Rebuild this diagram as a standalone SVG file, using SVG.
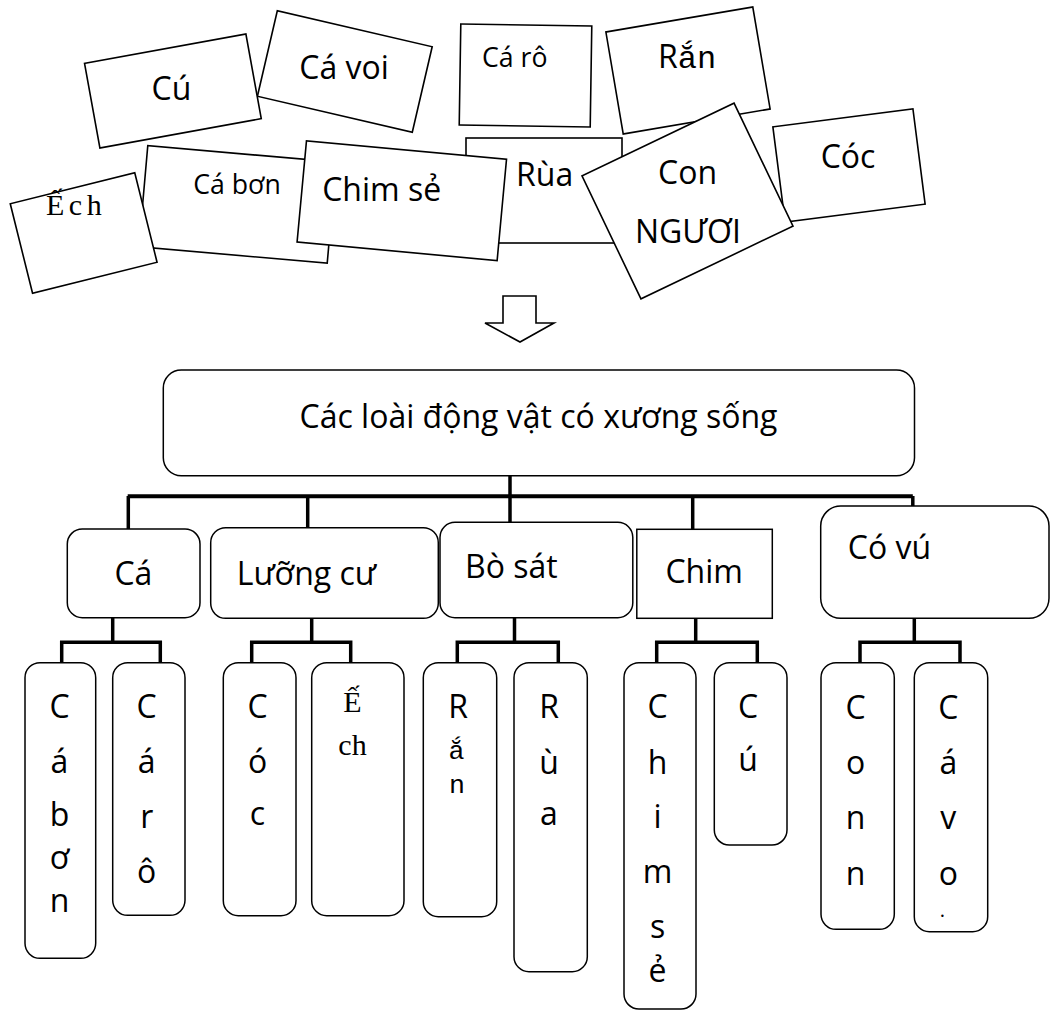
<svg xmlns="http://www.w3.org/2000/svg" width="1051" height="1012" viewBox="0 0 1051 1012">
<style>
.card{fill:#fff;stroke:#000;stroke-width:1.6}
.box{fill:#fff;stroke:#000;stroke-width:1.5}
.t{font-family:"Open Sans","Noto Sans","DejaVu Sans",sans-serif;font-size:32px;fill:#000}
.s{font-size:26.67px}
.serif{font-family:"Liberation Serif","DejaVu Serif",serif;font-size:30px;fill:#000}
.mono{font-family:"Liberation Mono","DejaVu Sans Mono",monospace}
.m{text-anchor:middle}
.conn{stroke:#000;stroke-width:3.5;fill:none}
</style>
<rect width="1051" height="1012" fill="#fff"/>

<!-- scattered cards -->
<g id="card-cavoi">
  <rect class="card" x="-79.5" y="-43.9" width="159" height="87.8" transform="translate(344.8,71.5) rotate(13.1)"/>
  <text class="t m" x="344" y="79">Cá voi</text>
</g>
<g id="card-cu">
  <rect class="card" x="-82" y="-43" width="164" height="86" transform="translate(172.9,91) rotate(-10.3)"/>
  <text class="t m" x="171.5" y="100">Cú</text>
</g>
<g id="card-caro">
  <rect class="card" x="-65.5" y="-50.5" width="131" height="101" transform="translate(525.5,75.5) rotate(0.9)"/>
  <text class="t s" x="482" y="67">Cá rô</text>
</g>
<g id="card-ran">
  <rect class="card" x="-74.5" y="-51.7" width="149" height="103.4" transform="translate(688,70.5) rotate(-9.65)"/>
  <text class="t" x="658" y="68">R<tspan class="mono">ắn</tspan></text>
</g>
<g id="card-cabon">
  <rect class="card" x="-94.5" y="-50.75" width="189" height="101.5" transform="translate(237.5,204.4) rotate(5)"/>
  <text class="t s m" x="237" y="194">Cá bơn</text>
</g>
<g id="card-ech">
  <rect class="card" x="-64.15" y="-46.1" width="128.3" height="92.2" transform="translate(83.65,233) rotate(-14)"/>
  <text class="serif" x="46" y="215" letter-spacing="4.5">Ếch</text>
</g>
<g id="card-rua">
  <rect class="card" x="466" y="138" width="156" height="105"/>
  <text class="t" x="516" y="186">Rùa</text>
</g>
<g id="card-chimse">
  <rect class="card" x="-100.45" y="-50.85" width="200.9" height="101.7" transform="translate(401.8,200.7) rotate(5.3)"/>
  <text class="t m" x="381.7" y="201">Chim sẻ</text>
</g>
<g id="card-coc">
  <rect class="card" x="-70.6" y="-48" width="141.2" height="96" transform="translate(849,165.5) rotate(-7.3)"/>
  <text class="t m" x="848" y="168">Cóc</text>
</g>
<g id="card-connguoi">
  <rect class="card" x="-84.3" y="-68.2" width="168.6" height="136.4" transform="translate(687.5,201) rotate(-25.6)"/>
  <text class="t m" x="687.5" y="184">Con</text>
  <text class="t m" x="688" y="243">NGƯƠI</text>
</g>

<!-- block arrow -->
<g id="arrow">
  <polygon class="card" points="503,296 536,296 536,323 554,323 520,342 485,323 503,323"/>
</g>

<!-- connectors -->
<g id="connectors" class="conn">
  <line x1="510" y1="475.7" x2="510" y2="527.7"/>
  <line x1="127.7" y1="496.3" x2="912.8" y2="496.3" stroke-width="4"/>
  <line x1="128.3" y1="496" x2="128.3" y2="529"/>
  <line x1="307.7" y1="496" x2="307.7" y2="528"/>
  <line x1="692.7" y1="496" x2="692.7" y2="529.3"/>
  <line x1="912.8" y1="496" x2="912.8" y2="527"/>

  <polyline points="61.7,662.7 61.7,642.3 160.3,642.3 160.3,662.7"/>
  <line x1="112.7" y1="617.7" x2="112.7" y2="642.3"/>

  <polyline points="251.7,662.7 251.7,642.3 350.7,642.3 350.7,662.7"/>
  <line x1="311.7" y1="618.3" x2="311.7" y2="642.3"/>

  <polyline points="457.3,662.7 457.3,642.3 558.3,642.3 558.3,662.7"/>
  <line x1="514.5" y1="617.7" x2="514.5" y2="642.3"/>

  <polyline points="656.7,662.7 656.7,642.3 757.3,642.3 757.3,662.7"/>
  <line x1="695.7" y1="618.3" x2="695.7" y2="642.3"/>

  <polyline points="860,662.7 860,642.3 960,642.3 960,662.7"/>
  <line x1="914.3" y1="618.3" x2="914.3" y2="642.3"/>
</g>

<!-- root -->
<g id="root">
  <rect class="box" x="163.3" y="370" width="751.2" height="105.7" rx="18"/>
  <text class="t m" x="538.5" y="428.3">Các loài động vật có xương sống</text>
</g>

<!-- categories -->
<g id="cat-ca">
  <rect class="box" x="67.3" y="529" width="132.7" height="88.7" rx="15"/>
  <text class="t m" x="133.4" y="585">Cá</text>
</g>
<g id="cat-luongcu">
  <rect class="box" x="210.7" y="527.7" width="227.6" height="90.6" rx="15"/>
  <text class="t" x="236.7" y="585">Lưỡng cư</text>
</g>
<g id="cat-bosat">
  <rect class="box" x="440" y="522.3" width="192.8" height="95.4" rx="15"/>
  <text class="t" x="465" y="578.3">Bò sát</text>
</g>
<g id="cat-chim">
  <rect class="box" x="636.8" y="529.3" width="135.5" height="89"/>
  <text class="t m" x="704.2" y="582.7">Chim</text>
</g>
<g id="cat-covu">
  <rect class="box" x="820.7" y="506" width="228.3" height="112.3" rx="20"/>
  <text class="t" x="847.8" y="559.3">Có vú</text>
</g>

<!-- leaves -->
<g id="leaf-cabon">
  <rect class="box" x="25" y="662.7" width="70.7" height="295.6" rx="15"/>
  <text class="t m"><tspan x="59.5" y="718.3">C</tspan><tspan x="59.5" y="773.3">á</tspan><tspan x="59.5" y="826">b</tspan><tspan x="59.5" y="869">ơ</tspan><tspan x="59.5" y="912">n</tspan></text>
</g>
<g id="leaf-caro">
  <rect class="box" x="112.7" y="662.7" width="72.3" height="252.6" rx="15"/>
  <text class="t m"><tspan x="146.7" y="718.3">C</tspan><tspan x="146.7" y="773.3">á</tspan><tspan x="146.7" y="828.3">r</tspan><tspan x="146.7" y="883.3">ô</tspan></text>
</g>
<g id="leaf-coc">
  <rect class="box" x="223.3" y="662.7" width="72.7" height="253" rx="15"/>
  <text class="t m"><tspan x="257.5" y="718.3">C</tspan><tspan x="257.5" y="773.3">ó</tspan><tspan x="257.5" y="825">c</tspan></text>
</g>
<g id="leaf-ech">
  <rect class="box" x="311.7" y="662.7" width="92.3" height="253" rx="15"/>
  <text class="serif m"><tspan x="352.5" y="711.7">Ế</tspan><tspan x="352.5" y="755">ch</tspan></text>
</g>
<g id="leaf-ran">
  <rect class="box" x="423.3" y="662.7" width="73.4" height="254" rx="15"/>
  <text class="t m" x="458" y="718.3">R</text>
  <text class="t s mono m"><tspan x="456.5" y="759.3">ắ</tspan><tspan x="457" y="793.3">n</tspan></text>
</g>
<g id="leaf-rua">
  <rect class="box" x="514" y="662.7" width="73.3" height="309" rx="15"/>
  <text class="t m"><tspan x="549" y="718.3">R</tspan><tspan x="549" y="774">ù</tspan><tspan x="549" y="825">a</tspan></text>
</g>
<g id="leaf-chimse">
  <rect class="box" x="624" y="662.7" width="72" height="346.3" rx="15"/>
  <text class="t m"><tspan x="657.5" y="718.3">C</tspan><tspan x="657.5" y="774">h</tspan><tspan x="657.5" y="828.3">i</tspan><tspan x="657.5" y="883.3">m</tspan><tspan x="657.5" y="938.3">s</tspan><tspan x="657.5" y="981.7">ẻ</tspan></text>
</g>
<g id="leaf-cu">
  <rect class="box" x="714.3" y="662.7" width="72.7" height="182.3" rx="15"/>
  <text class="t m"><tspan x="748" y="718.3">C</tspan><tspan x="748" y="770.7">ú</tspan></text>
</g>
<g id="leaf-conn">
  <rect class="box" x="821" y="662.7" width="73.3" height="266.6" rx="15"/>
  <text class="t m"><tspan x="855.5" y="719">C</tspan><tspan x="855.5" y="774">o</tspan><tspan x="855.5" y="829">n</tspan><tspan x="855.5" y="885">n</tspan></text>
</g>
<g id="leaf-cavo">
  <rect class="box" x="914.3" y="662.7" width="73.4" height="269" rx="15"/>
  <text class="t m"><tspan x="948.3" y="719">C</tspan><tspan x="948.3" y="774">á</tspan><tspan x="948.3" y="829">v</tspan><tspan x="948.3" y="885">o</tspan><tspan x="942.5" y="916.7" font-size="20">.</tspan></text>
</g>
</svg>
